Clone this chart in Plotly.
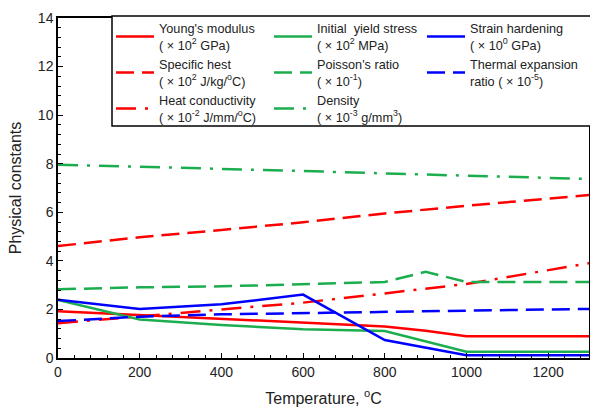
import plotly.graph_objects as go

temps = [0, 200, 400, 600, 800, 900, 1000, 1300]

youngs_modulus = [1.93, 1.78, 1.63, 1.46, 1.30, 1.12, 0.90, 0.90]
specific_heat = [4.61, 4.97, 5.27, 5.59, 5.95, 6.11, 6.27, 6.71]
heat_conductivity = [1.43, 1.72, 2.00, 2.28, 2.66, 2.85, 3.05, 3.90]
yield_stress = [2.39, 1.59, 1.36, 1.18, 1.11, 0.70, 0.26, 0.26]
poisson_ratio = [2.83, 2.91, 2.95, 3.05, 3.13, 3.55, 3.13, 3.13]
density = [7.96, 7.88, 7.78, 7.70, 7.60, 7.56, 7.52, 7.37]
strain_hardening = [2.40, 2.02, 2.21, 2.61, 0.74, 0.42, 0.11, 0.11]
thermal_expansion = [1.52, 1.70, 1.80, 1.85, 1.91, 1.93, 1.96, 2.02]

RED = "#ff0000"
GREEN = "#1cad4f"
BLUE = "#0000ff"
DASH = "18px,8px"
DASHDOT = "20px,9px,3px,9px"

# (legend label, values, colour, dash, legend column)
series = [
    ("Young's modulus<br>( × 10<sup>2</sup> GPa)", youngs_modulus, RED, "solid", "legend"),
    ("Specific hest<br>( × 10<sup>2</sup> J/kg/<sup>o</sup>C)", specific_heat, RED, DASH, "legend"),
    ("Heat conductivity<br>( × 10<sup>-2</sup> J/mm/<sup>o</sup>C)", heat_conductivity, RED, DASHDOT, "legend"),
    ("Initial  yield stress<br>( × 10<sup>2</sup> MPa)", yield_stress, GREEN, "solid", "legend2"),
    ("Poisson's ratio<br>( × 10<sup>-1</sup>)", poisson_ratio, GREEN, DASH, "legend2"),
    ("Density<br>( × 10<sup>-3</sup> g/mm<sup>3</sup>)", density, GREEN, DASHDOT, "legend2"),
    ("Strain hardening<br>( × 10<sup>0</sup> GPa)", strain_hardening, BLUE, "solid", "legend3"),
    ("Thermal expansion<br>ratio ( × 10<sup>-5</sup>)", thermal_expansion, BLUE, DASH, "legend3"),
]

fig = go.Figure()
for name, vals, color, dash, leg in series:
    fig.add_trace(go.Scatter(
        x=temps, y=vals, mode="lines", name=name, legend=leg,
        line=dict(color=color, width=2.5, dash=dash),
    ))

axis_common = dict(
    showline=True, linecolor="black", linewidth=1.5, mirror=True,
    ticks="inside", ticklen=5, tickcolor="black", tickwidth=1,
    showgrid=False, zeroline=False, automargin=False,
    tickfont=dict(size=14, color="#222"),
)

PLOT_L, PLOT_R, PLOT_T, PLOT_B = 58, 589, 18, 358
W, H = 590, 408


def px_x(p):
    return (p - PLOT_L) / (PLOT_R - PLOT_L)


def px_y(p):
    return (PLOT_B - p) / (PLOT_B - PLOT_T)


leg_common = dict(
    orientation="v", xanchor="left", yanchor="top",
    bgcolor="rgba(0,0,0,0)", borderwidth=0,
    font=dict(size=12.7, color="#222"),
    tracegroupgap=0, itemwidth=38,
)

LEG_TOP = 13.5

fig.update_layout(
    width=W, height=H,
    margin=dict(l=PLOT_L, r=W - PLOT_R, t=PLOT_T, b=H - PLOT_B),
    paper_bgcolor="white", plot_bgcolor="white",
    font=dict(family="Liberation Sans, Arial, sans-serif", color="#222"),
    xaxis=dict(
        range=[0, 1300], dtick=200, tick0=0,
        minor=dict(dtick=40, ticks="inside", ticklen=3, tickcolor="black"),
        title=dict(text="Temperature, <sup>o</sup>C", font=dict(size=16), standoff=14),
        **axis_common,
    ),
    yaxis=dict(
        range=[0, 14], dtick=2, tick0=0,
        minor=dict(dtick=0.4, ticks="inside", ticklen=3, tickcolor="black"),
        title=dict(text="Physical constants", font=dict(size=16), standoff=12),
        **axis_common,
    ),
    legend=dict(x=px_x(111), y=px_y(LEG_TOP), **leg_common),
    legend2=dict(x=px_x(269), y=px_y(LEG_TOP), **leg_common),
    legend3=dict(x=px_x(422), y=px_y(LEG_TOP), **leg_common),
    shapes=[dict(
        type="rect", xref="paper", yref="paper", layer="above",
        x0=px_x(112), x1=px_x(600), y0=px_y(126), y1=px_y(16),
        line=dict(color="black", width=1.5), fillcolor="white",
    )],
    showlegend=True,
)

fig.write_html(
    "out.html",
    config={"displayModeBar": False},
    post_script="document.body.style.margin='0';document.body.style.overflow='hidden';",
)
